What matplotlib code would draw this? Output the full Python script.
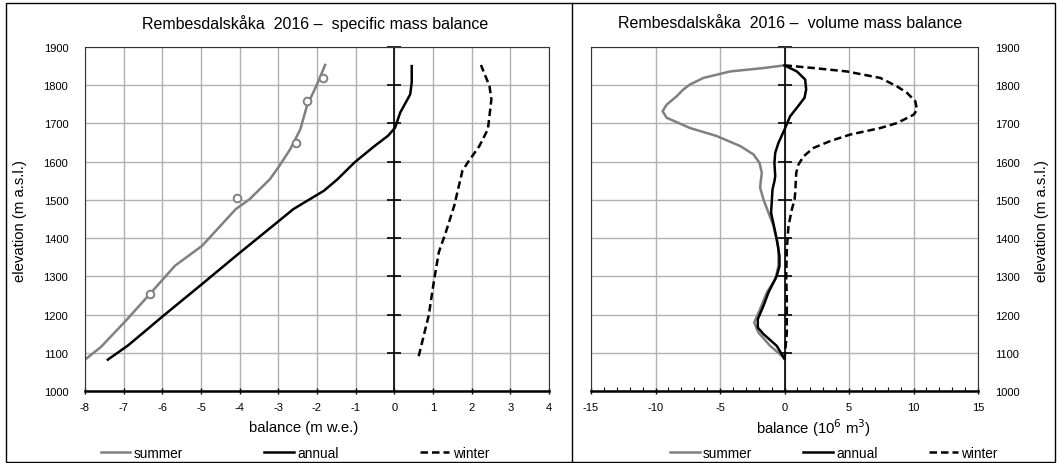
import matplotlib.pyplot as plt
import numpy as np
from matplotlib.patches import Rectangle
from matplotlib.lines import Line2D

plt.rcParams['font.family'] = ['Liberation Sans', 'DejaVu Sans']
plt.rcParams['axes.unicode_minus'] = False

# specific balance profiles (m w.e.) vs elevation (m a.s.l.)
sum_b = [-8.0, -7.59, -6.98, -6.32, -5.67, -4.97, -4.10, -3.74, -3.22, -3.0, -2.69, -2.43, -2.26, -2.0, -1.79]
sum_z = [1082, 1115, 1180, 1254, 1328, 1380, 1476, 1502, 1554, 1585, 1633, 1685, 1746, 1802, 1853]

stake_b = [-6.32, -4.08, -2.55, -2.25, -1.85]
stake_z = [1254, 1504, 1648, 1759, 1819]

ann_b = [-7.41, -6.89, -6.37, -6.02, -4.97, -4.09, -3.13, -2.61, -1.82, -1.47, -1.03, -0.51, -0.16, 0.02, 0.15, 0.41, 0.45, 0.45]
ann_z = [1082, 1119, 1163, 1193, 1280, 1354, 1433, 1476, 1524, 1554, 1598, 1641, 1668, 1689, 1728, 1776, 1807, 1850]

win_b = [0.63, 0.89, 1.02, 1.15, 1.33, 1.55, 1.76, 1.90, 2.20, 2.42, 2.51, 2.46, 2.24]
win_z = [1091, 1198, 1285, 1363, 1415, 1485, 1576, 1598, 1641, 1685, 1763, 1798, 1853]

# volume balance profiles (10^6 m3)
vsum_b = [0, -1.63, -4.22, -6.29, -7.32, -7.84, -8.36, -9.14, -9.45, -9.14, -7.32, -5.25, -3.44, -2.41,
          -1.94, -1.76, -1.84, -1.89, -1.63, -0.85, -0.47, -0.47, -0.72, -1.37, -1.89, -2.35, -2.02, -1.11, -0.21, 0]
vsum_z = [1852, 1845, 1836, 1819, 1802, 1789, 1771, 1749, 1732, 1715, 1688, 1667, 1641, 1619,
          1597, 1571, 1549, 1532, 1501, 1432, 1375, 1327, 1292, 1258, 1214, 1179, 1153, 1118, 1092, 1084]

vann_b = [0, 0.96, 1.60, 1.68, 1.55, 0.96, 0.44, 0, -0.47, -0.72, -0.78, -0.72, -0.78, -0.93, -1.04,
          -0.60, -0.39, -0.39, -0.60, -1.24, -1.63, -2.07, -2.07, -1.63, -0.60, 0]
vann_z = [1852, 1836, 1815, 1789, 1767, 1741, 1719, 1684, 1649, 1623, 1597, 1562, 1549, 1527, 1466,
          1397, 1353, 1327, 1301, 1258, 1223, 1188, 1166, 1149, 1118, 1084]

vwin_b = [0, 2.25, 4.84, 7.43, 8.72, 9.50, 10.14, 10.27, 10.02, 8.72, 7.43, 5.10, 3.55, 2.25, 1.48,
          1.09, 0.91, 0.83, 0.78, 0.57, 0.31, 0.18, 0.13, 0.18, 0.18, 0.05, 0]
vwin_z = [1852, 1845, 1836, 1819, 1797, 1780, 1758, 1736, 1723, 1701, 1688, 1671, 1654, 1636, 1614,
          1593, 1571, 1519, 1501, 1475, 1432, 1371, 1301, 1240, 1153, 1101, 1084]

elev_ticks = np.arange(1000, 1901, 100)

GRAY = '#808080'
GRID = '#b0b0b0'
dash = (0, (3, 1.6))

fig = plt.figure(figsize=(10.57, 4.64), dpi=100)

# panel frames
fig.patches.append(Rectangle((6/1057, 1/464), 1049/1057, 459/464, transform=fig.transFigure,
                             fill=False, ec='black', lw=1))
fig.add_artist(Line2D([572/1057, 572/1057], [1/464, 460/464], transform=fig.transFigure, color='black', lw=1))

ax1 = fig.add_axes([85/1057, 72/464, 464/1057, 344/464])
ax2 = fig.add_axes([591/1057, 72/464, 387/1057, 344/464])


def style(ax, xmin, xmax, xstep, minor=None):
    ax.set_xlim(xmin, xmax)
    ax.set_ylim(1000, 1900)
    ax.set_xticks(np.arange(xmin, xmax + 1, xstep))
    ax.set_yticks(elev_ticks)
    if minor:
        ax.set_xticks(np.arange(xmin, xmax + 1, minor), minor=True)
        ax.tick_params(axis='x', which='minor', direction='in', length=3, width=0.8)
    ax.grid(True, color=GRID, lw=1)
    ax.set_axisbelow(True)
    for s in ax.spines.values():
        s.set_color('#333333')
        s.set_linewidth(0.8)
    ax.spines['bottom'].set_color('black')
    ax.spines['bottom'].set_linewidth(1.8)
    ax.tick_params(axis='x', which='major', direction='inout', length=5, width=1, labelsize=8, pad=5.5)
    ax.tick_params(axis='y', length=0, labelsize=8, pad=12)
    # zero line with crossing ticks
    ax.axvline(0, color='black', lw=1.2, zorder=2)
    ax.plot(np.zeros(len(elev_ticks) - 1), elev_ticks[1:], ls='none', marker='_', ms=10,
            mew=1.2, color='black', zorder=2, clip_on=False)


style(ax1, -8, 4, 1)
style(ax2, -15, 15, 5, minor=1)

# specific mass balance
ax1.plot(sum_b, sum_z, color=GRAY, lw=1.8, label='summer')
ax1.plot(stake_b, stake_z, ls='none', marker='o', ms=5.5, mfc='white', mec=GRAY, mew=1.4)
ax1.plot(ann_b, ann_z, color='black', lw=1.8, label='annual')
ax1.plot(win_b, win_z, color='black', lw=1.8, ls=dash, label='winter')

# volume mass balance
ax2.plot(vsum_b, vsum_z, color=GRAY, lw=1.8, label='summer')
ax2.plot(vann_b, vann_z, color='black', lw=1.8, label='annual')
ax2.plot(vwin_b, vwin_z, color='black', lw=1.8, ls=dash, label='winter')

ax2.yaxis.tick_right()
ax2.yaxis.set_label_position('right')

ax1.set_ylabel('elevation (m a.s.l.)', fontsize=10.7, va='center')
ax2.set_ylabel('elevation (m a.s.l.)', fontsize=10.7, va='center', rotation=90)
ax1.set_xlabel('balance (m w.e.)', fontsize=10.7, va='center')
ax2.set_xlabel('balance (10$^{6}$ m$^{3}$)', fontsize=10.7, va='center')
ax1.yaxis.set_label_coords(-0.140, 0.497)
ax2.yaxis.set_label_coords(1.165, 0.497)
ax1.xaxis.set_label_coords(0.472, -0.105)
ax2.xaxis.set_label_coords(0.576, -0.105)

fig.text(315/1057, 1 - 24/464, 'Rembesdalskåka  2016 –  specific mass balance', ha='center', va='center', fontsize=11.5)
fig.text(790/1057, 1 - 24/464, 'Rembesdalskåka  2016 –  volume mass balance', ha='center', va='center', fontsize=11.5)

ax1.legend(loc='center', bbox_to_anchor=(295/1057, 1 - 454/464), bbox_transform=fig.transFigure,
           ncol=3, frameon=False, fontsize=9.8, handlelength=2.15, handletextpad=0.25, columnspacing=6.0,
           borderaxespad=0)
ax2.legend(loc='center', bbox_to_anchor=(834/1057, 1 - 454/464), bbox_transform=fig.transFigure,
           ncol=3, frameon=False, fontsize=9.8, handlelength=2.15, handletextpad=0.25, columnspacing=3.75,
           borderaxespad=0)

fig.savefig('out.png', dpi=100)
